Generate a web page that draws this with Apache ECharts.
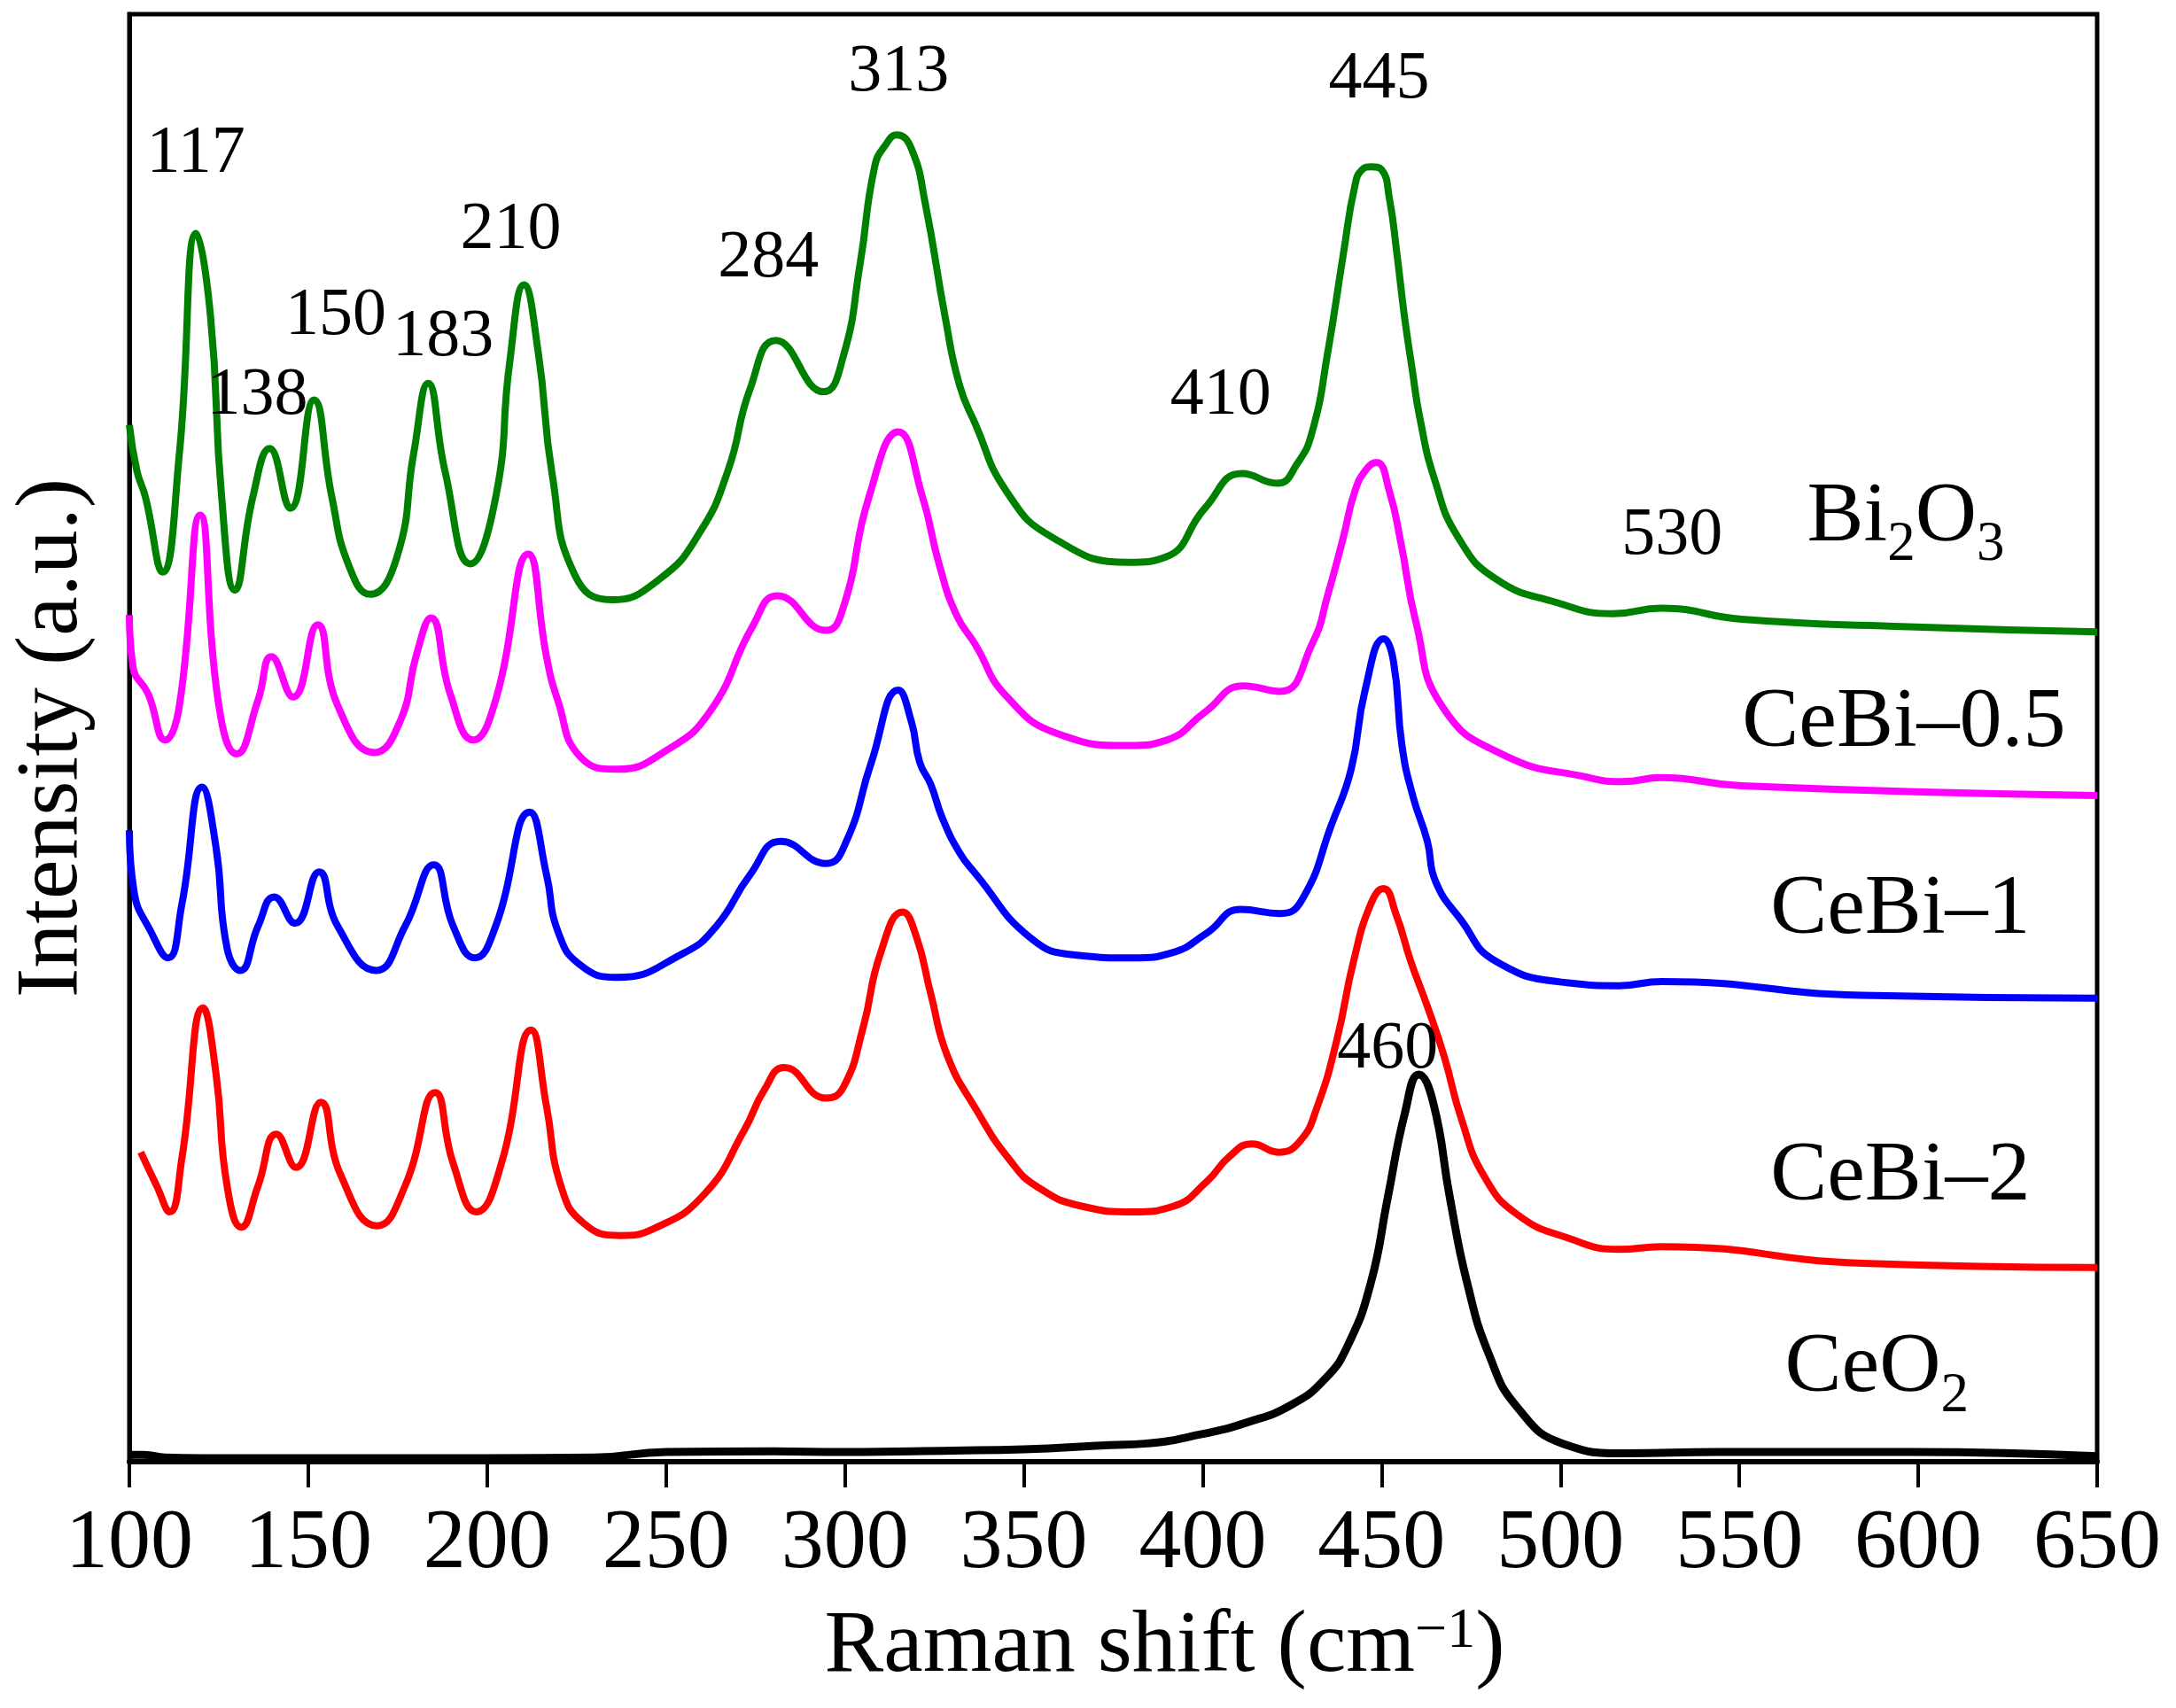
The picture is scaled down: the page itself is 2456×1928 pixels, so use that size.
<!DOCTYPE html>
<html>
<head>
<meta charset="utf-8">
<title>Raman spectra</title>
<script src="https://cdn.jsdelivr.net/npm/echarts@6/dist/echarts.min.js"></script>
<style>
html, body { margin: 0; padding: 0; background: #fff; }
#chart { width: 2456px; height: 1928px; }
</style>
</head>
<body>
<div id="chart"></div>

<script>
// spectra, [Raman shift, intensity in a.u. (offset stacked)]
var bi2o3 = [[100,747],[102.1,714],[104.5,695],[109.3,641],[114,727],[118.7,885],[122.7,825],[125.8,695],[129.5,628],[134.5,695],[139.2,730],[145,687],[151.6,765],[156.6,695],[161.3,646],[167.3,625],[174.8,652],[179.5,727],[183.5,777],[188.2,714],[195.3,647],[202.4,695],[206.3,792],[210.3,848],[214.3,799],[218.2,711],[224.5,639],[234.8,621],[248.2,636],[259.3,669],[267.3,714],[273.5,773],[280.7,808],[294,771],[299.5,796],[304.3,864],[308.3,933],[311.4,949],[314.5,956],[318.6,946],[322.5,906],[328,825],[332,776],[336.4,748],[345.2,699],[358,666],[379.3,648],[389.8,652],[400.6,687],[411,712],[420.8,705],[426.4,719],[430.7,743],[435,800],[439.3,870],[442.5,919],[444.6,931],[447.2,933],[450,931],[452.2,910],[454.3,870],[456.4,825],[458.5,788],[460.7,752],[464.9,707],[471.4,666],[482,636],[499,619],[514.7,611],[528.2,615],[550.7,607],[593.4,602],[650,598]];

var cebi05 = [[100,610],[101,573],[105.3,553],[110,520],[114,545],[119.8,682],[125,545],[130,510],[136,549],[139.7,580],[145.8,551],[152.6,603],[158.2,545],[168.5,511],[175.6,533],[180.3,582],[184.3,608],[189.7,553],[196.1,520],[202.4,549],[211.5,654],[216.6,580],[219.7,549],[226,508],[236.3,499],[249.8,512],[262.4,541],[274.2,602],[281.1,624],[294.7,599],[299.6,616],[306.7,695],[314.9,742],[321.7,695],[326.4,646],[331.2,610],[336.4,589],[345,552],[360,524],[379.3,516],[390,520],[400.6,540],[411.4,559],[421.6,555],[430.7,590],[435,625],[439.3,666],[442.5,699],[445.7,715],[448.6,720],[452.2,699],[455.4,662],[459.6,605],[467,544],[484.3,509],[507.8,493],[517.5,490],[528.1,493],[550.6,487],[650,480]];

var cebi1 = [[100,455],[101.3,411],[106,382],[110.8,363],[114.7,402],[120.3,486],[124.2,443],[127.3,370],[131,354],[136,386],[140.5,407],[146.3,388],[153,425],[158.2,386],[169,354],[177.1,386],[185.1,430],[190.5,386],[196.6,363],[202.4,386],[211.9,468],[216.6,423],[219.8,382],[226,358],[236.3,349],[254.6,366],[264.1,386],[273.5,423],[282.1,447],[294.7,431],[300.4,447],[307.4,504],[314.9,556],[318.6,533],[320.9,504],[324,488],[327.2,464],[332,439],[336.4,424],[352.1,377],[364.8,365],[380.6,363],[391.7,367],[401.2,381],[410.6,398],[421.7,395],[428,406],[436,459],[441.5,499],[445.4,556],[450.6,593],[453.3,577],[455.7,516],[458.8,479],[462.8,447],[465.1,418],[472.3,390],[481.7,361],[502.3,345],[516.4,343],[528.3,346],[584.4,336],[650,334]];

var cebi2 = [[103.2,223],[107.6,199],[111.3,180],[114.7,219],[120.6,327],[124.2,280],[127.3,199],[131.3,169],[136,199],[141.1,236],[146.6,212],[153.5,259],[159,207],[169.2,170],[177.1,199],[185.5,266],[190.5,215],[197,180],[204,215],[212.3,311],[216.6,256],[220.6,199],[226.9,172],[237.2,163],[246.6,168],[260.8,193],[271.9,239],[277.5,268],[283,284],[294.8,262],[299.6,270],[305.1,313],[309.9,366],[316.1,396],[320,378],[324,337],[328.7,292],[336.4,255],[345.9,218],[353.8,198],[366.4,184],[380.6,180],[391.7,184],[401.2,202],[407.5,220],[413.8,229],[421.2,223],[427.2,231],[431.9,255],[437.5,304],[442.2,361],[447,402],[450.5,413],[454.1,394],[458.1,361],[462.8,328],[467.5,292],[472.3,247],[478.6,206],[488,178],[502.3,161],[516.4,153],[528.3,155],[584.4,143],[650,140]];

var ceo2 = [[100,5],[104,5],[110,3],[120,2.5],[150,2.5],[200,2.5],[230,3],[250,7],[280,7.5],[300,7],[330,8],[350,9],[374,12],[383.6,13],[400,20],[412,28],[424.8,41],[434.3,60],[440.6,84],[447,129],[451.7,190],[456.5,251],[460.4,279],[464.4,259],[469.1,190],[473.9,129],[480.2,76],[488,39],[500.7,13],[518,6],[544,7],[598,7],[650,4]];

// peak position labels
var peakText = ['117', '138', '150', '183', '210', '284', '313', '410', '445', '530', '460'];
var peakX = [118.6, 135.8, 157.7, 187.7, 206.6, 278.6, 315, 405, 449.3, 531.2, 451.7];
var peakY = [942, 768, 825, 810, 887, 867, 1001, 768, 996, 667, 297];

// sample names, written next to each trace
var sampleText = ['Bi{sub|2}O{sub|3}', 'CeBi\u20130.5', 'CeBi\u20131', 'CeBi\u20132', 'CeO{sub|2}'];
var sampleX = [596.5, 596, 595, 595, 588.4];
var sampleY = [680, 532, 397, 205, 67];

var xTicks = [100, 650, 50];

var FONT = 'Liberation Serif';

function main()
{
	var chart = echarts.init(document.getElementById('chart'));

	var peaks = [];
	for (var i = 0; i < peakText.length; ++i)
		peaks.push({ name: peakText[i], value: [peakX[i], peakY[i]] });

	var samples = [];
	for (var j = 0; j < sampleText.length; ++j)
		samples.push({ name: sampleText[j], value: [sampleX[j], sampleY[j]] });

	var option = {
		animation: false,
		backgroundColor: '#fff',
		textStyle: { fontFamily: FONT, color: '#000' },

		grid: {
			left: 146, right: 89, top: 16, bottom: 278,
			show: true, borderColor: '#000', borderWidth: 5
		},

		xAxis: {
			type: 'value',
			min: xTicks[0], max: xTicks[1], interval: xTicks[2],
			axisLine: { lineStyle: { color: '#000', width: 6 } },
			axisTick: { length: 29, lineStyle: { color: '#000', width: 4 } },
			axisLabel: { margin: 46, fontSize: 96, fontFamily: FONT, color: '#000' },
			splitLine: { show: false },
			name: 'Raman shift (cm{sup|\u22121})',
			nameLocation: 'middle',
			nameGap: 160,
			nameTextStyle: {
				fontSize: 100, fontFamily: FONT, color: '#000', lineHeight: 100,
				padding: [0, 0, 0, 116],
				rich: { sup: { fontSize: 64, fontFamily: FONT, lineHeight: 20, verticalAlign: 'top' } }
			}
		},

		yAxis: {
			type: 'value',
			min: 0, max: 1043,
			axisLine: { show: true, lineStyle: { color: '#000', width: 5 } },
			axisTick: { show: false },
			axisLabel: { show: false },
			splitLine: { show: false },
			name: 'Intensity (a.u.)',
			nameLocation: 'middle',
			nameRotate: 90,
			nameGap: 36,
			nameTextStyle: { fontSize: 100, fontFamily: FONT, color: '#000' }
		},

		series: [
			line_series('CeO2', ceo2, '#000000', 9),
			line_series('CeBi-2', cebi2, '#ff0000', 8),
			line_series('CeBi-1', cebi1, '#0000ff', 8),
			line_series('CeBi-0.5', cebi05, '#ff00ff', 8),
			line_series('Bi2O3', bi2o3, '#008000', 8),
			text_series(peaks, 76),
			text_series(samples, 96)
		]
	};

	chart.setOption(option);
}

function line_series(name, data, color, width)
{
	return {
		name: name,
		type: 'line',
		data: data,
		showSymbol: false,
		smooth: 0.5,
		clip: false,
		lineStyle: { color: color, width: width },
		z: 2
	};
}

function text_series(data, size)
{
	return {
		type: 'scatter',
		data: data,
		symbolSize: 1,
		itemStyle: { color: '#fff', opacity: 1 },
		silent: true,
		z: 5,
		label: {
			show: true,
			position: 'inside',
			formatter: '{b}',
			fontSize: size,
			lineHeight: Math.round(size * 1.3),
			fontFamily: FONT,
			color: '#000',
			opacity: 1,
			textBorderWidth: 0,
			rich: {
				sub: { fontSize: Math.round(size * 0.66), fontFamily: FONT, color: '#000', lineHeight: 26, verticalAlign: 'bottom' }
			}
		}
	};
}

main();
</script>
</body>
</html>
